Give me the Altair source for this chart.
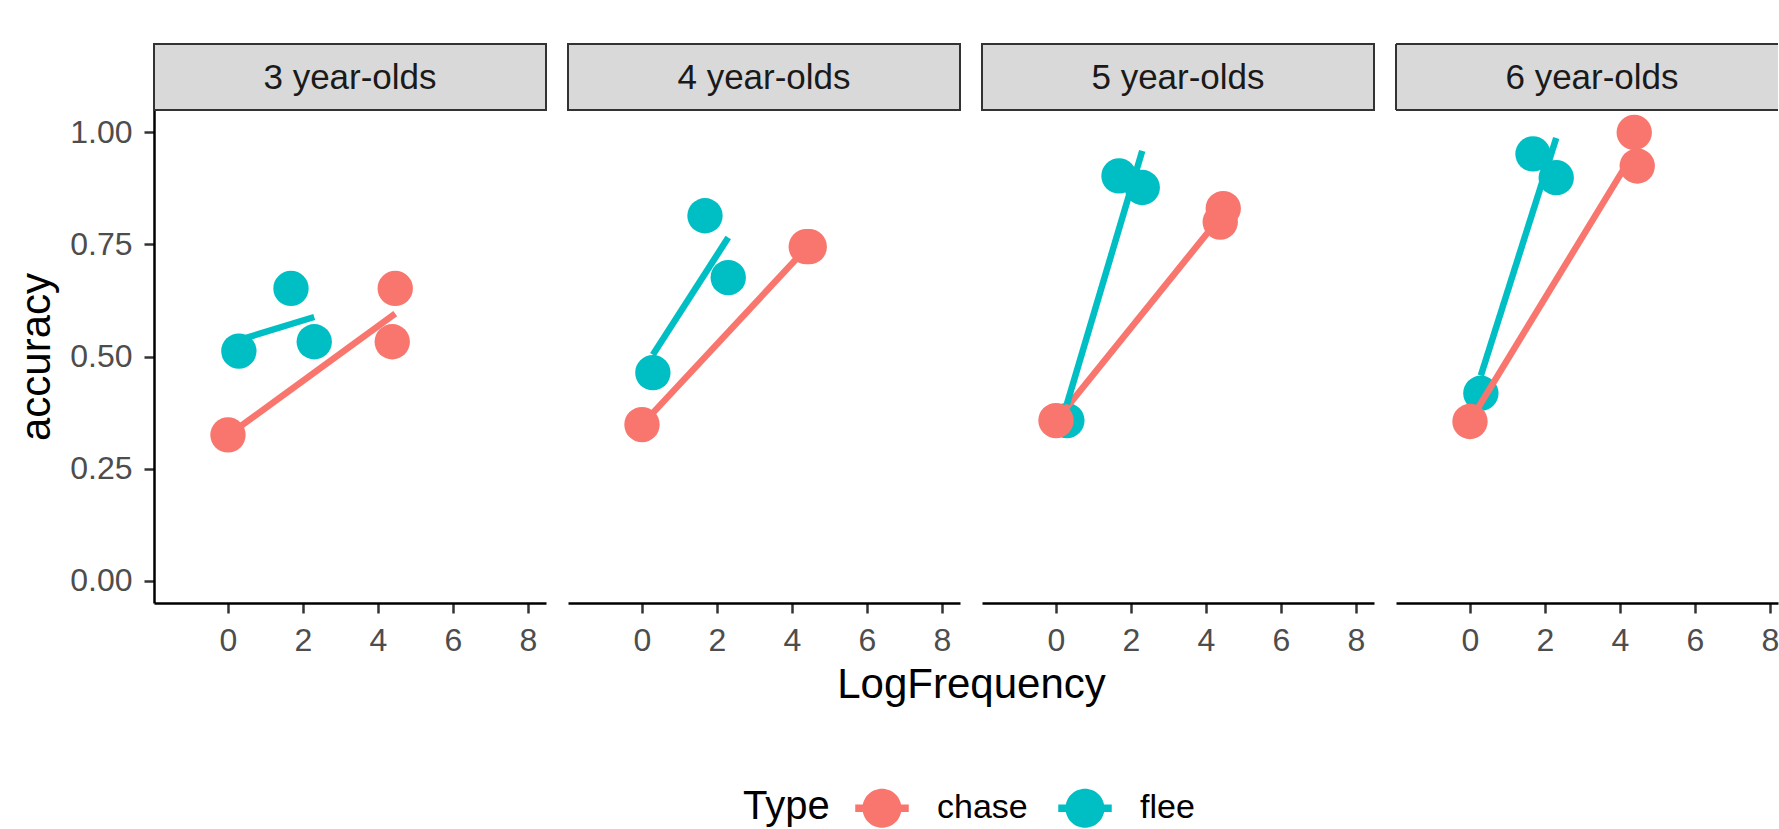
import altair as alt
import pandas as pd

FONT = "Liberation Sans"

# ---- data ----
ages = ["3 year-olds", "4 year-olds", "5 year-olds", "6 year-olds"]
types = ["chase", "flee"]
type_colors = ["#F8766D", "#00BFC4"]

chase_logfreq = [0.0, 4.38, 4.46]
flee_logfreq = [0.29, 1.68, 2.30]

chase_accuracy = {
    "3 year-olds": [0.325, 0.533, 0.652],
    "4 year-olds": [0.348, 0.745, 0.745],
    "5 year-olds": [0.357, 0.800, 0.830],
    "6 year-olds": [0.355, 1.000, 0.925],
}
flee_accuracy = {
    "3 year-olds": [0.512, 0.652, 0.533],
    "4 year-olds": [0.464, 0.814, 0.676],
    "5 year-olds": [0.357, 0.903, 0.877],
    "6 year-olds": [0.418, 0.952, 0.899],
}

x_ticks = [0, 2, 4, 6, 8]
y_ticks = [0, 0.25, 0.5, 0.75, 1.0]

rows = []
for age in ages:
    for x, a in zip(chase_logfreq, chase_accuracy[age]):
        rows.append({"Age": age, "Type": "chase", "LogFrequency": x, "accuracy": a})
    for x, a in zip(flee_logfreq, flee_accuracy[age]):
        rows.append({"Age": age, "Type": "flee", "LogFrequency": x, "accuracy": a})
df = pd.DataFrame(rows)

# ---- layout ----
W = 392
H = 493
STRIP = 66
PX_PER_UNIT = 37.5
X0 = -1.973
widths = [W, W, W, 382]
x_domains = [[X0, X0 + w / PX_PER_UNIT] for w in widths]

cscale = alt.Scale(domain=types, range=type_colors)

LEG_PATH = ("M -0.886 0 A 0.886 0.886 0 1 1 0.886 0 A 0.886 0.886 0 1 1 -0.886 0 Z "
            "M -1.216 -0.17 L 1.216 -0.17 L 1.216 0.17 L -1.216 0.17 Z")

legend = alt.Legend(
    title="Type", orient="none", legendX=589, legendY=676, direction="horizontal",
    titleOrient="left", titleFontSize=40, titleFontWeight="normal", titleColor="#000000",
    titleFont=FONT, titlePadding=30, titleBaseline="middle", titleAnchor="middle",
    labelFontSize=34, labelColor="#000000", labelFont=FONT, labelOffset=33,
    columnPadding=30, symbolType=LEG_PATH, symbolSize=1936, symbolStrokeWidth=0,
    symbolOpacity=1,
)

panels = []
for i, age in enumerate(ages):
    w = widths[i]
    sub = df[df["Age"] == age]
    if i == 1:
        xaxis = alt.Axis(values=x_ticks, title="LogFrequency", grid=False, labelFlush=False,
                         titleX=403, titleY=94, titleBaseline="alphabetic", titleAlign="center")
    else:
        xaxis = alt.Axis(values=x_ticks, title=None, grid=False, labelFlush=False)
    xenc = alt.X("LogFrequency:Q",
                 scale=alt.Scale(domain=x_domains[i], nice=False, zero=False),
                 axis=xaxis)
    if i == 0:
        yaxis = alt.Axis(values=y_ticks, format=".2f", title="accuracy", grid=False)
        yenc = alt.Y("accuracy:Q", scale=alt.Scale(domain=[-0.05, 1.05], nice=False, zero=False),
                     axis=yaxis)
    else:
        yenc = alt.Y("accuracy:Q", scale=alt.Scale(domain=[-0.05, 1.05], nice=False, zero=False),
                     axis=None)

    strip_df = pd.DataFrame({"label": [age]})
    layers = []
    if i < 3:
        layers.append(alt.Chart(strip_df).mark_rect(
            fill="#D9D9D9", stroke="#333333", strokeWidth=2
        ).encode(x=alt.value(0), x2=alt.value(w), y=alt.value(-STRIP), y2=alt.value(0)))
    else:
        # last panel is cut by the picture's right edge: no right border
        layers.append(alt.Chart(strip_df).mark_rect(fill="#D9D9D9").encode(
            x=alt.value(0), x2=alt.value(w), y=alt.value(-STRIP), y2=alt.value(0)))
        border = alt.Chart(strip_df).mark_rule(color="#333333", strokeWidth=2)
        layers.append(border.encode(x=alt.value(0), x2=alt.value(w), y=alt.value(-STRIP)))
        layers.append(border.encode(x=alt.value(0), x2=alt.value(w), y=alt.value(0)))
        layers.append(border.encode(x=alt.value(0), y=alt.value(-STRIP), y2=alt.value(0)))
    layers.append(alt.Chart(strip_df).mark_text(
        fontSize=35, color="#1A1A1A", font=FONT, baseline="middle", align="center"
    ).encode(x=alt.value(W / 2), y=alt.value(-STRIP / 2 + 1), text="label:N"))

    layers.append(alt.Chart(sub).mark_circle(size=1250, opacity=1).encode(
        x=xenc, y=yenc,
        color=alt.Color("Type:N", scale=cscale, legend=legend),
        order=alt.Order("Type:N", sort="descending"),
    ))
    layers.append(alt.Chart(sub).transform_regression(
        "LogFrequency", "accuracy", groupby=["Type"]
    ).mark_line(strokeWidth=6.5, strokeCap="butt").encode(
        x=xenc, y=yenc,
        color=alt.Color("Type:N", scale=cscale, legend=None),
    ))
    panels.append(alt.layer(*layers).properties(width=w, height=H))

chart = alt.hconcat(*panels, spacing=22, bounds="flush").resolve_scale(
    x="independent", y="independent", color="shared"
).properties(
    padding={"left": 15, "top": 43, "right": 0, "bottom": 0},
    background="white",
).configure(font=FONT).configure_view(stroke=None).configure_axis(
    labelFont=FONT, labelFontSize=32, labelColor="#4D4D4D", labelPadding=12,
    tickSize=10, tickColor="#333333", tickWidth=2.5,
    domainColor="#000000", domainWidth=2.5,
    titleFont=FONT, titleFontSize=42, titleFontWeight="normal", titleColor="#000000",
    titlePadding=11,
)

chart.save("out.html", embed_options={"renderer": "svg", "actions": False})
